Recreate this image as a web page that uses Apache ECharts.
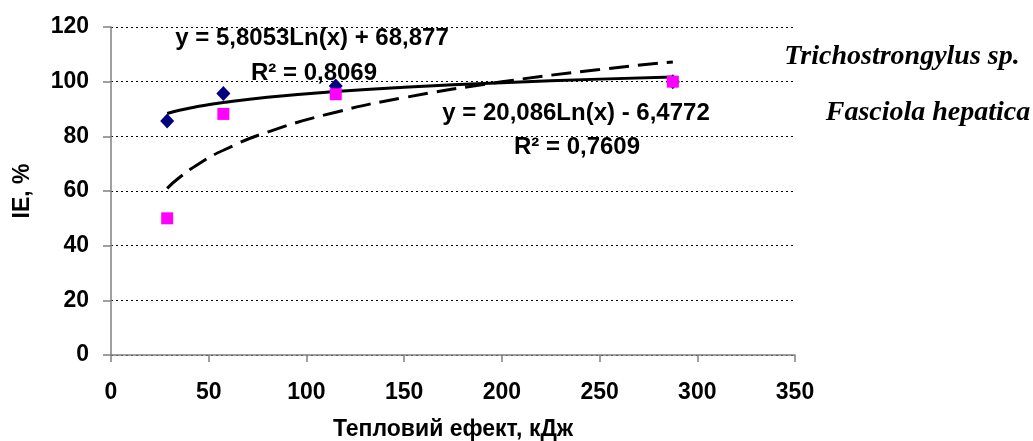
<!DOCTYPE html>
<html>
<head>
<meta charset="utf-8">
<script src="https://cdn.jsdelivr.net/npm/echarts@6/dist/echarts.min.js"></script>
<style>
  html, body { margin: 0; padding: 0; background: #fff; }
  #chart { width: 1033px; height: 441px; }
</style>
</head>
<body>
<div id="chart"></div>
<script>
// measured points (x = thermal effect, kJ; y = IE, %)
var heatX = [28.75, 57.5, 115, 287.5];
var trichIE = [85.6, 95.7, 98.4, 100];
var fascIE = [50, 88.2, 95.4, 100];

// trend curves
var trendX = [28.75, 35, 45, 57.5, 80, 115, 150, 200, 250, 287.5];
var trichTrend = [88.37, 89.52, 90.98, 92.40, 94.32, 96.42, 97.97, 99.64, 100.93, 101.74];
var fascTrend = [60.98, 64.93, 69.98, 74.91, 81.54, 88.83, 94.16, 99.94, 104.43, 107.23];

var xTicks = [0, 50, 100, 150, 200, 250, 300, 350];
var yTicks = [0, 20, 40, 60, 80, 100, 120];

var seriesNames = ['Trichostrongylus sp.', 'Fasciola hepatica'];
var trichEq = 'y = 5,8053Ln(x) + 68,877';
var trichR2 = 'R\u00b2 = 0,8069';
var fascEq = 'y = 20,086Ln(x) - 6,4772';
var fascR2 = 'R\u00b2 = 0,7609';

function pairs(xs, ys) {
    return xs.map(function (x, i) { return [x, ys[i]]; });
}

var sansBold = 'bold 24px "Liberation Sans", Arial, sans-serif';
var serifBI = 'italic bold 28px "Liberation Serif", "Times New Roman", serif';

function label(text, x, y, font) {
    return {
        type: 'text',
        x: x,
        y: y,
        z: 100,
        style: {
            text: text,
            font: font || sansBold,
            fill: '#000',
            align: 'center',
            verticalAlign: 'middle'
        }
    };
}

var chart = echarts.init(document.getElementById('chart'));
chart.setOption({
    backgroundColor: '#fff',
    animation: false,
    grid: {
        left: 111,
        top: 27,
        width: 684,
        height: 328,
        containLabel: false,
        outerBoundsMode: 'none'
    },
    xAxis: {
        type: 'value',
        min: xTicks[0],
        max: xTicks[xTicks.length - 1],
        interval: 50,
        name: 'Тепловий ефект, кДж',
        nameLocation: 'middle',
        nameGap: 63,
        nameTextStyle: { fontFamily: 'Liberation Sans', fontWeight: 'bold', fontSize: 23, color: '#000' },
        axisLine: { show: true, lineStyle: { color: '#808080', width: 1.5 } },
        axisTick: { show: true, length: 7, lineStyle: { color: '#808080', width: 1.5 } },
        axisLabel: { fontFamily: 'Liberation Sans', fontWeight: 'bold', fontSize: 23, color: '#000', margin: 26 },
        splitLine: { show: false }
    },
    yAxis: {
        type: 'value',
        min: yTicks[0],
        max: yTicks[yTicks.length - 1],
        interval: 20,
        name: 'IE, %',
        nameLocation: 'middle',
        nameGap: 77,
        nameTextStyle: { fontFamily: 'Liberation Sans', fontWeight: 'bold', fontSize: 23, color: '#000' },
        axisLine: { show: true, lineStyle: { color: '#808080', width: 1.5 } },
        axisTick: { show: true, length: 8, lineStyle: { color: '#808080', width: 1.5 } },
        axisLabel: { fontFamily: 'Liberation Sans', fontWeight: 'bold', fontSize: 23, color: '#000', margin: 22 },
        splitLine: { show: true, lineStyle: { color: '#000', width: 1, type: [2, 3] } }
    },
    series: [
        {
            name: seriesNames[0] + ' trend',
            type: 'line',
            data: pairs(trendX, trichTrend),
            smooth: true,
            showSymbol: false,
            lineStyle: { color: '#000', width: 3, type: 'solid' },
            z: 3
        },
        {
            name: seriesNames[1] + ' trend',
            type: 'line',
            data: pairs(trendX, fascTrend),
            smooth: true,
            showSymbol: false,
            lineStyle: { color: '#000', width: 3, type: [20, 9] },
            z: 3
        },
        {
            name: seriesNames[0],
            type: 'scatter',
            data: pairs(heatX, trichIE),
            symbol: 'diamond',
            symbolSize: [14, 15],
            itemStyle: { color: '#000080', opacity: 1 },
            z: 4
        },
        {
            name: seriesNames[1],
            type: 'scatter',
            data: pairs(heatX, fascIE),
            symbol: 'rect',
            symbolSize: 12,
            itemStyle: { color: '#ff00ff', opacity: 1 },
            z: 5
        }
    ],
    graphic: [
        label(trichEq, 312, 38),
        label(trichR2, 314, 73),
        label(fascEq, 576, 113),
        label(fascR2, 577, 147),
        label(seriesNames[0], 902, 57, serifBI),
        label(seriesNames[1], 928, 113, serifBI)
    ]
});
</script>
</body>
</html>
